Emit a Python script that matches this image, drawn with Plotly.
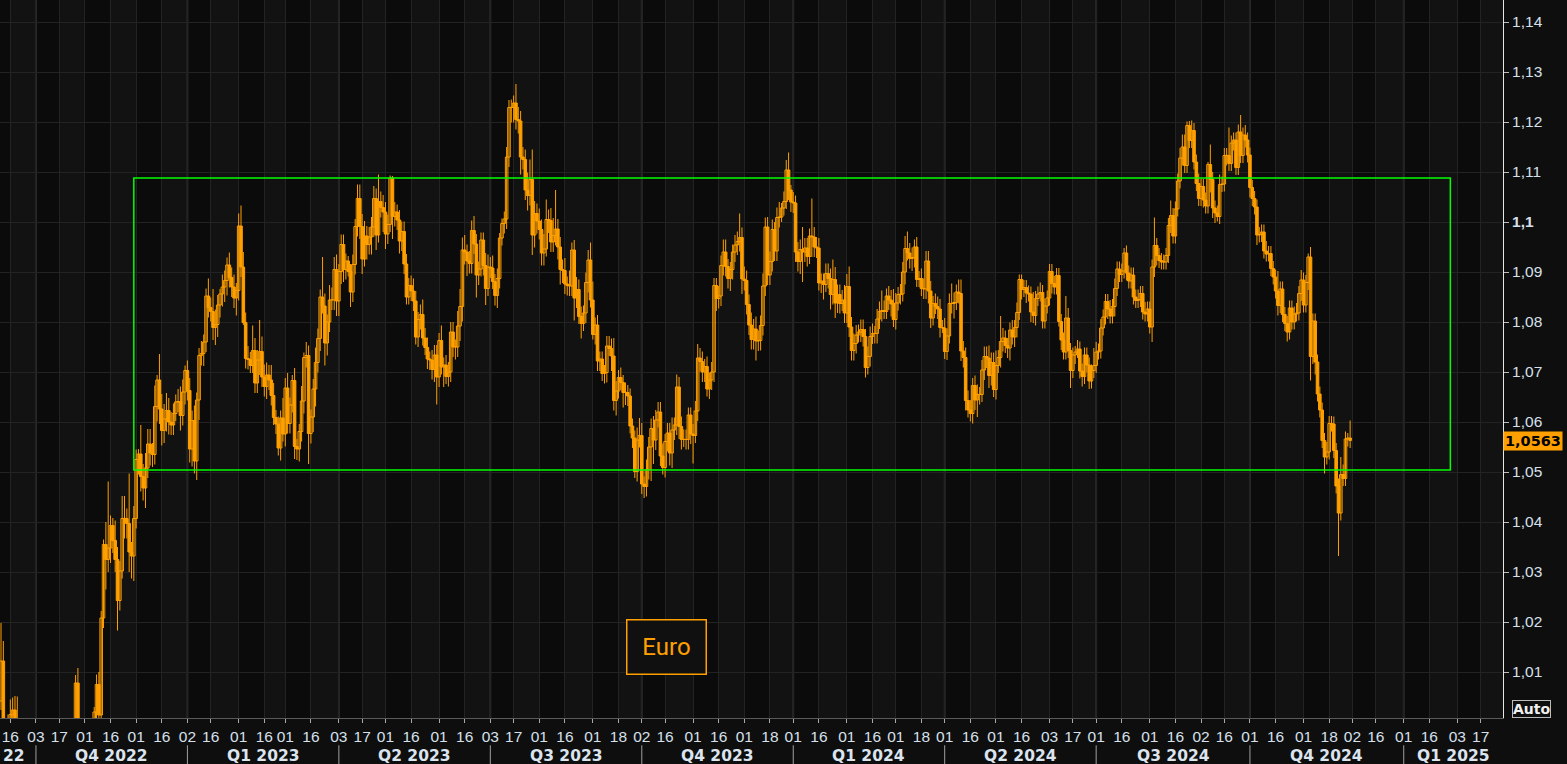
import numpy as np
import pandas as pd
import plotly.graph_objects as go

# ---------------- data (EUR/USD daily, pips = price * 10000) ----------------
START_DATE = "2022-09-12"
FIRST_OPEN_PIPS = 10042

CLOSE_PIPS = [
    # 2022
    10122, 9976, 9980, 9996, 10015,
    10024, 9970, 9838, 9837, 9690,
    9607, 9595, 9737, 9815, 9801,
    9824, 9987, 9885, 9797, 9742,
    9703, 9706, 9771, 9780, 9720,
    9841, 9872, 9774, 9779, 9862,
    9877, 9965, 10078, 9965, 9966,
    9883, 9875, 9815, 9748, 9960,
    10020, 10075, 10014, 10208, 10355,
    10325, 10348, 10393, 10363, 10325,
    10243, 10302, 10407, 10407, 10397,
    10340, 10332, 10407, 10525, 10536,
    10491, 10468, 10508, 10556, 10538,
    10535, 10631, 10684, 10626, 10583,
    10606, 10623, 10600, 10594, 10617,
    10640, 10641, 10613, 10660, 10703,
    # 2023
    10663, 10546, 10603, 10522, 10644,
    10733, 10737, 10760, 10852, 10829,
    10821, 10789, 10795, 10834, 10856,
    10870, 10883, 10914, 10889, 10870,
    10848, 10863, 10992, 10910, 10799,
    10727, 10725, 10713, 10743, 10678,
    10724, 10741, 10690, 10671, 10694,
    10684, 10653, 10609, 10596, 10548,
    10608, 10576, 10668, 10597, 10634,
    10683, 10551, 10546, 10581, 10642,
    10729, 10733, 10577, 10610, 10666,
    10719, 10767, 10850, 10832, 10758,
    10800, 10844, 10844, 10905, 10842,
    10901, 10955, 10905, 10922, 10901,
    10860, 10915, 10991, 11047, 10991,
    10926, 10972, 10955, 10970, 10990,
    11047, 10974, 11041, 11029, 11020,
    10976, 10995, 11088, 11011, 11020,
    11004, 10962, 10981, 10916, 10850,
    10873, 10862, 10842, 10770, 10805,
    10815, 10768, 10749, 10726, 10724,
    10705, 10734, 10690, 10763, 10710,
    10714, 10691, 10700, 10780, 10750,
    10750, 10792, 10831, 10944, 10940,
    10922, 10917, 10983, 10956, 10894,
    10906, 10964, 10913, 10867, 10910,
    10908, 10881, 10853, 10887, 10968,
    10997, 11006, 11130, 11229, 11229,
    11238, 11205, 11202, 11130, 11125,
    11064, 11053, 11085, 10974, 11017,
    11002, 10985, 10938, 10946, 11005,
    11003, 10960, 10973, 10986, 10950,
    10905, 10903, 10876, 10873, 10872,
    10944, 10848, 10865, 10811, 10797,
    10818, 10879, 10924, 10844, 10775,
    10794, 10722, 10726, 10697, 10699,
    10752, 10747, 10732, 10643, 10662,
    10689, 10679, 10659, 10659, 10652,
    10592, 10568, 10501, 10564, 10573,
    10476, 10471, 10505, 10550, 10587,
    10564, 10604, 10620, 10532, 10509,
    10561, 10578, 10538, 10584, 10594,
    10670, 10591, 10565, 10565, 10565,
    10614, 10576, 10573, 10622, 10728,
    10721, 10700, 10711, 10666, 10684,
    10700, 10873, 10847, 10852, 10913,
    10940, 10911, 10887, 10905, 10940,
    10954, 10961, 10969, 10886, 10883,
    10835, 10794, 10765, 10786, 10762,
    10763, 10793, 10872, 10990, 10894,
    10921, 10985, 10942, 11009, 11010,
    11028, 11041, 11104, 11064, 11040,
    # 2024
    11038, 10940, 10921, 10945, 10940,
    10948, 10931, 10972, 10970, 10950,
    10948, 10878, 10882, 10875, 10897,
    10887, 10855, 10885, 10838, 10855,
    10837, 10844, 10818, 10871, 10790,
    10743, 10757, 10774, 10780, 10785,
    10771, 10709, 10731, 10771, 10777,
    10777, 10806, 10821, 10823, 10821,
    10852, 10844, 10836, 10805, 10838,
    10855, 10856, 10900, 10947, 10938,
    10927, 10929, 10950, 10885, 10887,
    10867, 10866, 10922, 10862, 10808,
    10837, 10831, 10826, 10789, 10788,
    10741, 10772, 10837, 10837, 10839,
    10860, 10857, 10742, 10729, 10643,
    10624, 10617, 10673, 10644, 10655,
    10655, 10704, 10731, 10728, 10693,
    10719, 10665, 10713, 10729, 10761,
    10768, 10753, 10748, 10784, 10770,
    10789, 10819, 10885, 10865, 10869,
    10858, 10856, 10820, 10813, 10847,
    10856, 10859, 10802, 10832, 10848,
    10901, 10877, 10870, 10893, 10801,
    10764, 10740, 10808, 10743, 10703,
    10734, 10740, 10746, 10702, 10691,
    10734, 10714, 10682, 10703, 10713,
    10740, 10742, 10788, 10810, 10841,
    10826, 10812, 10831, 10867, 10906,
    10895, 10902, 10938, 10898, 10882,
    10894, 10850, 10843, 10845, 10857,
    10820, 10816, 10826, 10790, 10910,
    10953, 10933, 10923, 10920, 10920,
    10933, 10993, 11013, 10972, 11026,
    11082, 11128, 11150, 11113, 11193,
    11163, 11183, 11120, 11077, 11047,
    11071, 11044, 11032, 11115, 11085,
    11028, 11018, 11011, 11075, 11076,
    11133, 11133, 11117, 11158, 11164,
    11109, 11180, 11133, 11174, 11164,
    11134, 11069, 11047, 11030, 10974,
    10975, 10980, 10942, 10936, 10937,
    10907, 10890, 10862, 10833, 10866,
    10815, 10797, 10780, 10828, 10800,
    10816, 10818, 10857, 10884, 10834,
    10879, 10930, 10731, 10802, 10720,
    10656, 10624, 10563, 10530, 10540,
    10597, 10596, 10543, 10472, 10418,
    10495, 10487, 10566, 10568, 10563,
]

UPPER_WICK_PIPS = [
    # 2022
    76, 40, 22, 19, 30,   25, 28, 81, 30, 25,   25, 35, 20, 22, 40,   30, 12, 15, 20, 30,
    25, 30, 22, 30, 20,   20, 35, 20, 25, 20,   20, 25, 16, 30, 15,   30, 25, 50, 20, 10,
    10, 20, 25, 14, 10,   45, 133, 20, 15, 40,  25, 20, 45, 45, 20,   100, 20, 25, 20, 10,
    58, 25, 30, 30, 30,   20, 42, 10, 52, 30,   30, 35, 25, 20, 20,   15, 25, 30, 25, 10,
    # 2023
    20, 25, 20, 30, 15,   15, 25, 15, 15, 35,   20, 45, 30, 20, 10,   25, 20, 15, 25, 20,
    25, 15, 25, 41, 30,   20, 25, 15, 50, 25,   20, 63, 30, 25, 25,   20, 30, 25, 15, 15,
    15, 40, 20, 30, 15,   11, 25, 15, 15, 30,   10, 27, 20, 15, 20,   30, 20, 15, 80, 25,
    15, 30, 25, 25, 30,   15, 20, 20, 15, 10,   15, 20, 15, 28, 28,   25, 30, 20, 20, 20,
    25, 20, 54, 20, 25,   20, 20, 5, 4, 20,     15, 20, 20, 20, 20,   15, 20, 25, 20, 15,
    20, 30, 20, 20, 15,   20, 20, 20, 15, 30,   15, 20, 20, 20, 20,   15, 30, 35, 25, 30,
    15, 20, 20, 29, 20,   15, 15, 15, 25, 25,   20, 25, 15, 20, 10,   10, 15, 20, 15, 16,
    15, 38, 25, 20, 20,   20, 35, 40, 60, 25,   20, 25, 20, 30, 40,   20, 25, 35, 78, 20,
    20, 20, 25, 15, 30,   15, 20, 25, 20, 20,   15, 20, 20, 35, 37,   15, 20, 15, 15, 15,
    20, 20, 20, 36, 20,   15, 20, 15, 20, 15,   15, 15, 15, 25, 35,   25, 15, 20, 20, 20,
    25, 20, 20, 20, 25,   15, 20, 20, 25, 15,   25, 20, 20, 20, 20,   15, 15, 20, 20, 28,
    20, 20, 15, 20, 15,   20, 15, 15, 20, 20,   25, 25, 15, 15, 15,   20, 20, 48, 20, 25,
    20, 20, 25, 20, 25,   20, 20, 25, 19, 20,   20, 20, 15, 20, 30,   10, 20, 20, 35, 10,
    # 2024
    20, 15, 20, 20, 45,   20, 20, 15, 75, 20,   20, 20, 15, 15, 20,   20, 20, 40, 25, 20,
    20, 20, 30, 25, 40,   20, 20, 20, 15, 20,   20, 15, 20, 20, 20,   15, 20, 20, 40, 20,
    15, 20, 20, 30, 20,   15, 20, 20, 25, 34,   20, 20, 15, 20, 15,   20, 20, 20, 20, 20,
    15, 20, 20, 20, 15,   20, 15, 20, 40, 20,   15, 25, 28, 20, 20,   20, 20, 15, 20, 20,
    15, 20, 20, 20, 25,   20, 20, 30, 15, 51,   20, 15, 15, 15, 20,   15, 20, 10, 10, 15,
    15, 15, 15, 40, 15,   15, 20, 15, 15, 15,   15, 15, 15, 15, 15,   15, 15, 44, 20, 15,
    15, 12, 18, 15, 15,   15, 15, 15, 12, 35,   20, 15, 18, 15, 15,   15, 18, 15, 20, 15,
    15, 15, 10, 15, 15,   15, 15, 15, 20, 15,   15, 20, 15, 15, 15,   56, 15, 15, 15, 15,
    15, 15, 30, 15, 15,   15, 20, 25, 25, 8,    9, 20, 15, 15, 20,    15, 15, 15, 5, 40,
    15, 15, 15, 20, 15,   15, 15, 56, 15, 15,   15, 15, 34, 15, 20,   15, 15, 15, 15, 15,
    15, 15, 15, 20, 15,   15, 15, 15, 40, 15,   15, 15, 15, 15, 15,   15, 20, 15, 20, 15,
    15, 7, 20, 15, 15,    15, 15, 15, 15, 20,   15, 15, 15, 15, 15,   35, 20, 15, 10, 35,
]

LOWER_WICK_PIPS = [
    # 2022
    18, 31, 25, 26, 27,   30, 22, 35, 30, 23,   70, 55, 60, 30, 30,   25, 20, 27, 20, 25,
    20, 35, 25, 70, 20,   20, 25, 25, 25, 70,   55, 20, 20, 20, 25,   20, 20, 20, 20, 20,
    20, 20, 35, 25, 20,   60, 25, 30, 25, 25,   60, 20, 15, 40, 30,   40, 45, 50, 20, 30,
    30, 25, 40, 20, 25,   25, 20, 30, 30, 30,   25, 25, 25, 20, 20,   15, 20, 30, 20, 25,
    # 2023
    20, 27, 35, 25, 38,   40, 20, 25, 20, 20,   20, 25, 35, 25, 25,   25, 30, 30, 20, 20,
    20, 35, 20, 20, 5,    20, 20, 15, 15, 20,   20, 30, 20, 20, 25,   20, 20, 15, 20, 15,
    25, 15, 25, 20, 20,   15, 25, 22, 25, 20,   25, 20, 61, 20, 30,   35, 20, 25, 15, 45,
    25, 20, 20, 20, 30,   30, 25, 25, 20, 10,   30, 20, 20, 20, 25,   30, 15, 30, 20, 35,
    20, 30, 15, 20, 40,   30, 20, 15, 45, 20,   20, 25, 20, 20, 15,   15, 20, 20, 15, 20,
    20, 15, 15, 20, 20,   20, 25, 55, 20, 15,   40, 15, 20, 20, 20,   25, 20, 30, 30, 25,
    30, 20, 20, 20, 45,   20, 15, 20, 33, 15,   20, 15, 20, 25, 20,   15, 20, 20, 20, 30,
    30, 20, 25, 35, 20,   20, 30, 20, 40, 25,   25, 20, 25, 25, 15,   25, 20, 20, 20, 25,
    30, 25, 20, 20, 20,   20, 45, 20, 15, 30,   15, 20, 20, 15, 10,   20, 20, 20, 15, 20,
    20, 15, 30, 20, 30,   15, 15, 30, 25, 20,   15, 20, 13, 20, 15,   20, 23, 20, 20, 68,
    48, 20, 15, 20, 14,   20, 20, 25, 30, 20,   20, 25, 20, 15, 20,   20, 20, 56, 15, 20,
    20, 20, 20, 15, 20,   20, 20, 25, 20, 20,   20, 20, 20, 25, 20,   20, 20, 20, 30, 20,
    20, 20, 20, 20, 39,   20, 20, 20, 20, 20,   20, 20, 20, 20, 20,   10, 15, 15, 20, 20,
    # 2024
    20, 20, 20, 25, 60,   20, 20, 15, 40, 20,   20, 15, 20, 30, 15,   20, 30, 20, 30, 20,
    20, 15, 20, 20, 20,   20, 20, 20, 15, 20,   20, 20, 14, 20, 15,   20, 20, 20, 20, 15,
    15, 20, 25, 15, 20,   15, 20, 15, 25, 15,   20, 25, 20, 15, 15,   15, 20, 20, 25, 20,
    15, 15, 20, 20, 10,   15, 17, 15, 20, 30,   15, 20, 20, 20, 20,   15, 16, 20, 20, 34,
    20, 15, 20, 20, 25,   20, 15, 20, 15, 20,   20, 15, 20, 25, 15,   20, 20, 15, 20, 15,
    20, 15, 20, 15, 20,   15, 15, 15, 15, 15,   15, 20, 15, 15, 10,   20, 15, 15, 15, 35,
    15, 18, 12, 15, 20,   15, 15, 16, 15, 15,   15, 15, 15, 15, 15,   20, 15, 15, 20, 15,
    15, 15, 15, 15, 15,   15, 15, 15, 15, 15,   15, 15, 15, 13, 30,   20, 20, 15, 15, 15,
    15, 15, 15, 15, 15,   15, 15, 15, 15, 15,   15, 15, 15, 15, 15,   15, 15, 15, 15, 26,
    20, 20, 10, 15, 15,   15, 20, 15, 15, 15,   15, 15, 15, 15, 15,   15, 20, 15, 15, 20,
    15, 15, 15, 15, 15,   15, 15, 15, 20, 15,   15, 15, 19, 15, 15,   15, 15, 15, 15, 15,
    15, 15, 48, 15, 25,   15, 15, 15, 33, 15,   15, 15, 15, 15, 86,   15, 15, 15, 15, 15,
]

Y_TICKS = [1.01, 1.02, 1.03, 1.04, 1.05, 1.06, 1.07, 1.08, 1.09, 1.10, 1.11, 1.12, 1.13, 1.14]
Y_TICK_TEXT = ["1,01", "1,02", "1,03", "1,04", "1,05", "1,06", "1,07", "1,08", "1,09",
               "<b>1,1</b>", "1,11", "1,12", "1,13", "1,14"]

BOX_LOW, BOX_HIGH = 1.0504, 1.1088          # green range box (price)
BOX_FROM, BOX_TO = "2022-11-30", "2025-01-29"  # green range box (dates)
LABEL_TEXT = "Euro"
PARTIAL_QUARTER_TEXT = "22"   # visible tail of the clipped "Q3 2022" label

# ---------------- styling ----------------
ORANGE = "#FFA000"
GREEN = "#00FF00"
TXT = "#D6E0EC"
XMIN, XMAX = -0.43, 644.6
YMIN, YMAX = 1.0008, 1.1444

n = min(len(CLOSE_PIPS), len(UPPER_WICK_PIPS), len(LOWER_WICK_PIPS))
close = np.array(CLOSE_PIPS[:n], dtype=float) / 1e4
open_ = np.array([FIRST_OPEN_PIPS] + CLOSE_PIPS[:n - 1], dtype=float) / 1e4
high = np.maximum(open_, close) + np.array(UPPER_WICK_PIPS[:n]) / 1e4
low = np.minimum(open_, close) - np.array(LOWER_WICK_PIPS[:n]) / 1e4
dates = pd.bdate_range(START_DATE, periods=n)
idx = np.arange(n)


def pos(d):
    return int(np.busday_count(np.datetime64(START_DATE), np.datetime64(d, "D")))


def first_bday(y, m, d):
    return np.busday_offset(np.datetime64(f"{y:04d}-{m:02d}-{d:02d}"), 0, roll="forward")


def to_paper(p):
    return (p - XMIN) / (XMAX - XMIN)


fig = go.Figure()

# wicks
wx = np.column_stack([idx, idx, np.full(n, np.nan)]).ravel()
wy = np.column_stack([low, high, np.full(n, np.nan)]).ravel()
fig.add_trace(go.Scatter(x=wx, y=wy, mode="lines", line=dict(color=ORANGE, width=1),
                         hoverinfo="skip", connectgaps=False))

up = close >= open_
dn = ~up
fig.add_trace(go.Bar(x=idx[up], base=open_[up], y=np.maximum(close[up] - open_[up], 0.00004),
                     width=1.1, marker=dict(color="rgba(0,0,0,0)", line=dict(color=ORANGE, width=1)),
                     hoverinfo="skip"))
fig.add_trace(go.Bar(x=idx[dn], base=close[dn], y=np.maximum(open_[dn] - close[dn], 0.00004),
                     width=1.1, marker=dict(color=ORANGE, line=dict(color=ORANGE, width=1)),
                     hoverinfo="skip"))

# ---------------- x ticks (1st / 16th of month, first business day) ----------------
ticks = []
for y in range(2022, 2026):
    for m in range(1, 13):
        for d in (1, 16):
            bd = first_bday(y, m, d)
            p = pos(bd)
            if XMIN <= p <= XMAX:
                ticks.append((p, pd.Timestamp(bd)))
tickvals = [p for p, _ in ticks]
ticktext = [f"{t.day:02d}" for _, t in ticks]

shapes = []
# alternating background stripes (second half of each month lighter)
for k, (p, t) in enumerate(ticks):
    if t.day >= 16:
        x1 = ticks[k + 1][0] if k + 1 < len(ticks) else XMAX
        shapes.append(dict(type="rect", xref="x", yref="paper", x0=p, x1=x1, y0=0, y1=1,
                           fillcolor="#121212", line=dict(width=0), layer="below"))

# quarters
qstarts = []
for y in range(2022, 2026):
    for m in (1, 4, 7, 10):
        if (y, m) >= (2022, 7) and (y, m) <= (2025, 4):
            qstarts.append((pos(first_bday(y, m, 1)), y, (m - 1) // 3 + 1))

annotations = []
for i in range(len(qstarts) - 1):
    s, y, q = qstarts[i]
    e = qstarts[i + 1][0]
    vs, ve = max(s, XMIN), min(e, XMAX)
    if ve <= vs:
        continue
    if s < XMIN:
        ax, anc, txt = ve - 3.7, "right", PARTIAL_QUARTER_TEXT
    else:
        ax, anc, txt = (vs + ve) / 2, "center", f"Q{q} {y}"
    annotations.append(dict(x=ax, xref="x", y=-0.0525, yref="paper", xanchor=anc, yanchor="middle",
                            text=f"<b>{txt}</b>", showarrow=False,
                            font=dict(family="DejaVu Sans", size=15.5, color="#DCE4EE")))
    if XMIN < s < XMAX:
        shapes.append(dict(type="line", xref="x", yref="paper", x0=s, x1=s, y0=0, y1=1,
                           line=dict(color="#2A2A2A", width=2), layer="between"))
        xp = to_paper(s)
        shapes.append(dict(type="line", xref="paper", yref="paper", x0=xp, x1=xp,
                           y0=-0.038, y1=-0.066, line=dict(color="#A0A0A0", width=1)))

# green range box
shapes.append(dict(type="rect", xref="x", yref="y", x0=pos(BOX_FROM), x1=pos(BOX_TO),
                   y0=BOX_LOW, y1=BOX_HIGH, line=dict(color=GREEN, width=1.5),
                   fillcolor="rgba(0,0,0,0)", layer="above"))

# Euro label
annotations.append(dict(x=666.5 / 1503, y=(718 - 647) / 718, xref="paper", yref="paper",
                        xanchor="center", yanchor="middle",
                        text=LABEL_TEXT, showarrow=False, font=dict(family="Roboto", size=24, color=ORANGE),
                        bordercolor=ORANGE, borderwidth=1.5, borderpad=0, bgcolor="#101010",
                        width=78, height=53, align="center", valign="middle"))

# last price tag
last = close[-1]
annotations.append(dict(x=1.0, xref="paper", y=last, yref="y", xanchor="left", yanchor="middle",
                        text=f"<b>{last:.4f}</b>".replace(".", ","), showarrow=False,
                        font=dict(family="DejaVu Sans", size=14.5, color="#000000"),
                        bgcolor=ORANGE, borderpad=1))

# Auto button
annotations.append(dict(x=1531 / 1503, y=(718 - 709) / 718, xref="paper", yref="paper",
                        xanchor="center", yanchor="middle",
                        text="<b>Auto</b>", showarrow=False,
                        font=dict(family="DejaVu Sans", size=14, color="#F0F0F0"),
                        bordercolor="#BBBBBB", borderwidth=1, borderpad=0))

fig.update_layout(
    width=1567, height=764,
    margin=dict(l=0, r=64, t=0, b=46),
    plot_bgcolor="#0B0B0B", paper_bgcolor="#0E0E0E",
    showlegend=False, barmode="overlay",
    shapes=shapes, annotations=annotations,
    xaxis=dict(range=[XMIN, XMAX], tickmode="array", tickvals=tickvals, ticktext=ticktext,
               showgrid=True, gridcolor="#232323", gridwidth=1, zeroline=False,
               ticks="outside", ticklen=4, tickcolor="#AAAAAA",
               tickfont=dict(family="Liberation Sans", size=15.5, color=TXT),
               showline=True, linecolor="#5A5A5A", linewidth=1, fixedrange=True),
    yaxis=dict(range=[YMIN, YMAX], side="right", tickmode="array", tickvals=Y_TICKS,
               ticktext=Y_TICK_TEXT, showgrid=True, gridcolor="#232323", gridwidth=1,
               zeroline=False, ticks="outside", ticklen=5, tickcolor="#BBBBBB",
               tickfont=dict(family="Liberation Sans", size=15.5, color=TXT),
               showline=True, linecolor="#E6E6E6", linewidth=1, fixedrange=True),
)

fig.write_html(
    "out.html",
    config={"displayModeBar": False},
    post_script="document.body.style.margin='0px';document.body.style.overflow='hidden';"
                "document.body.style.background='#0E0E0E';",
)
